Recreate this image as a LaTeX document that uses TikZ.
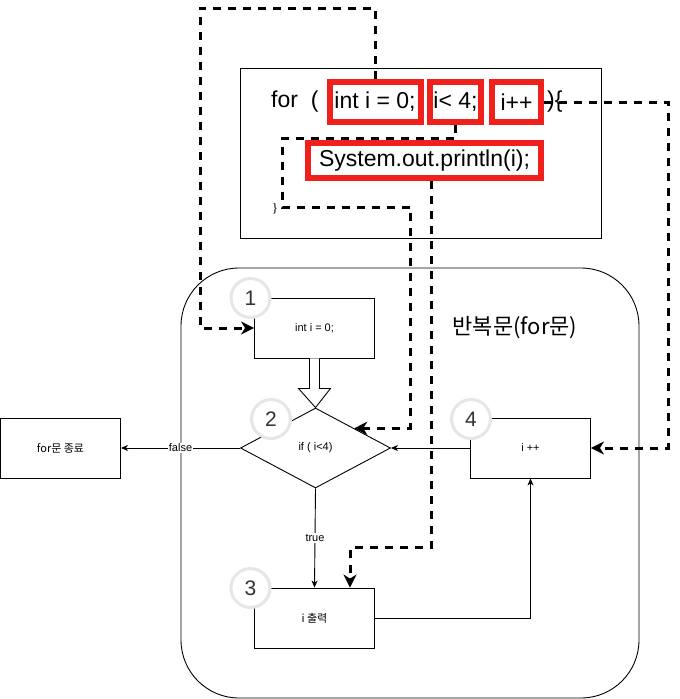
\documentclass[tikz,border=0pt]{standalone}
\usepackage{fontspec}
\setmainfont{Liberation Sans}
\newfontfamily\kr{Noto Sans CJK KR}
\newfontfamily\serifz{Liberation Serif}
\usetikzlibrary{arrows.meta,shapes.geometric,calc}
\definecolor{redbox}{RGB}{240,32,28}
\definecolor{circgray}{RGB}{230,230,230}
\definecolor{digit}{RGB}{51,51,51}
\tikzset{
  codetxt/.style={font=\fontsize{23}{27}\selectfont, inner sep=0pt},
  redframe/.style={draw=redbox, line width=6pt, inner sep=0pt, font=\fontsize{23}{27}\selectfont},
  flowbox/.style={draw, line width=0.9pt, minimum width=120pt, minimum height=60pt, inner sep=0pt, font=\fontsize{11}{13}\selectfont},
  numcirc/.style={circle, draw=circgray, line width=3pt, fill=white, minimum size=39pt, inner sep=0pt, text=digit, font=\fontsize{21}{25}\selectfont},
  dsh/.style={line width=3pt, dash pattern=on 8pt off 7pt},
  bigtip/.style={-{Stealth[length=13pt,width=13pt,inset=4pt]}},
  thin/.style={line width=0.9pt, -{Stealth[length=7pt,width=6pt,inset=2pt]}},
  lbl/.style={fill=white, inner sep=1pt, font=\fontsize{11}{13}\selectfont}
}
\begin{document}
\begin{tikzpicture}[x=1pt,y=-1pt]
\useasboundingbox (0,0) rectangle (680,699);
% container
\node (loop) [draw, line width=0.9pt, rounded corners=58pt, minimum width=458pt, minimum height=430pt] at (410,483) {};
\node (title) [inner sep=0pt, font=\kr\fontsize{22}{26}\selectfont] at (515,328) {반복문(for문)};
% code box
\node (code) [draw, line width=0.9pt, minimum width=361pt, minimum height=170pt] at (420.5,153) {};
\node (fortxt) [codetxt, anchor=west] at (271,102) {for\ \ (};
\node (r1) [redframe, minimum width=91pt, minimum height=40pt] at (375,102) {int i = 0;};
\node (r2) [redframe, minimum width=51pt, minimum height=40pt] at (455.5,102) {i< 4;};
\node (r3) [redframe, minimum width=49pt, minimum height=40pt] at (516.5,102) {i++};
\node (r4) [redframe, minimum width=233pt, minimum height=35pt] at (424.5,160.5) {System.out.println(i);};
\node (brace) [inner sep=0pt, font=\serifz\fontsize{13}{15}\selectfont] at (275,209) {\}};
% flow nodes
\node (b1) [flowbox] at (314.5,328) {int i = 0;};
\node (d) [diamond, draw, line width=0.9pt, minimum width=150pt, minimum height=80pt, inner sep=0pt, aspect=1.875, font=\fontsize{11}{13}\selectfont] at (315.5,448) {if ( i<4)};
\node (b4) [flowbox] at (530.5,448) {i ++};
\node (endb) [flowbox] at (60.5,448) {\kr for문 종료};
\node (b3) [flowbox] at (314.5,618) {\kr i 출력};
% number circles
\node (c1) [numcirc] at (250.5,298) {1};
\node (c2) [numcirc] at (271,419) {2};
\node (c4) [numcirc] at (471,419) {4};
\node (c3) [numcirc] at (250.5,588) {3};
% block arrow b1 -> d
\draw[line width=0.9pt, fill=white]
  ($(b1.south)+(-5,0)$) -- ($(b1.south)+(-5,30)$) -- ($(b1.south)+(-16,30)$) -- (d.north)
  -- ($(b1.south)+(16,30)$) -- ($(b1.south)+(5,30)$) -- ($(b1.south)+(5,0)$);
% solid connectors
\draw[thin] (b4.west) -- (d.east);
\draw[thin] (d.west) -- node[lbl] {false} (endb.east);
\draw[thin] (d.south) -- node[lbl] {true} (b3.north);
\draw[thin] (b3.east) -| (b4.south);
% dashed connectors
\coordinate (tl) at (200,8);
\draw[dsh, bigtip] (r1.north) |- (tl) |- (b1.west);
\draw[dsh, bigtip] (r2.south) |- (282,138) -- (282,207) -| ($(d.27)+(56,0)$) -- (d.27);
\draw[dsh, bigtip] ($(r4.south)+(6.5,0)$) |- ($(b3.north)+(35.5,-40)$) -- ($(b3.north)+(35.5,0)$);
\draw[dsh, bigtip] (r3.east) -- (668,102) |- (b4.east);
\node (closetxt) [codetxt, anchor=west] at (547,102) {)\{};
\end{tikzpicture}
\end{document}
